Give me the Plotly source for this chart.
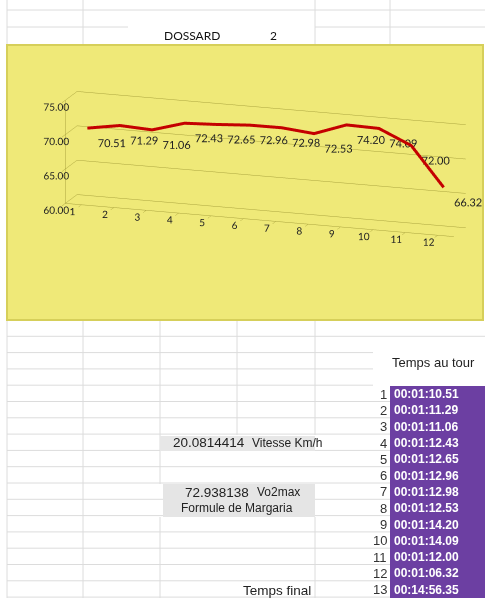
import plotly.graph_objects as go

# ---------------- data ----------------
laps = list(range(1, 13))
lap_seconds = [70.51, 71.29, 71.06, 72.43, 72.65, 72.96, 72.98, 72.53, 74.20, 74.09, 72.00, 66.32]
lap_labels = ["%.2f" % v for v in lap_seconds]
value_ticks = [60, 65, 70, 75]
value_ticktext = ["60.00", "65.00", "70.00", "75.00"]

tour_numbers = [str(i) for i in range(1, 14)]
tour_times = ["00:01:10.51", "00:01:11.29", "00:01:11.06", "00:01:12.43", "00:01:12.65",
              "00:01:12.96", "00:01:12.98", "00:01:12.53", "00:01:14.20", "00:01:14.09",
              "00:01:12.00", "00:01:06.32", "00:14:56.35"]
dossard_label = "DOSSARD"
dossard_value = "2"
vitesse_value = "20.0814414"
vitesse_label = "Vitesse Km/h"
vo2_value = "72.938138"
vo2_label = "Vo2max"
formule_text = "Formule de Margaria"
temps_tour_title = "Temps au tour"
temps_final_text = "Temps final"

# ---------------- geometry helpers (pixels -> paper) ----------------
W, H = 485, 598
def px(x):
    return x / W
def py(y):
    return 1 - y / H

YELLOW = "#efe978"
OLIVE = "#aba43e"
GRID = "#dcdcdc"
PURPLE = "#6c3fa2"
ARIAL = "Liberation Sans, Arial, sans-serif"
CALIBRI = "Lato, Open Sans, sans-serif"

fig = go.Figure()

fig.add_trace(go.Scatter3d(
    x=laps, y=[0.5] * len(laps), z=lap_seconds,
    mode="lines+text",
    line=dict(color="#c40000", width=6),
    text=lap_labels,
    textposition="bottom right",
    textfont=dict(family=CALIBRI, size=11, color="#222222"),
    hoverinfo="skip",
    showlegend=False,
))

axis_common = dict(showspikes=False, showbackground=False, zeroline=False,
                   title=dict(text=""))
k = 0.775
cx, cy, cz = -0.1305, -0.0797, -0.130

fig.update_layout(
    width=W, height=H,
    margin=dict(l=0, r=0, t=0, b=0),
    paper_bgcolor="white",
    hovermode=False,
    scene=dict(
        domain=dict(x=[px(7), px(483)], y=[py(320), py(45)]),
        bgcolor=YELLOW,
        aspectmode="manual",
        aspectratio=dict(x=3.85 * k, y=0.346 * k, z=1.0 * k),
        camera=dict(
            eye=dict(x=0.31 * 3 + cx, y=-0.917 * 3 + cy, z=0.253 * 3 + cz),
            center=dict(x=cx, y=cy, z=cz),
            up=dict(x=0, y=0, z=1),
            projection=dict(type="orthographic"),
        ),
        xaxis=dict(range=[0.5, 12.5], tickvals=laps, ticktext=[str(i) for i in laps],
                   showgrid=False, showline=True, linecolor=OLIVE, linewidth=1,
                   ticks="outside", ticklen=7, tickcolor=OLIVE, tickangle=0,
                   tickfont=dict(family=CALIBRI, size=11, color="#222222"),
                   **axis_common),
        yaxis=dict(range=[0, 1], showticklabels=False, showgrid=False, showline=False,
                   ticks="", **axis_common),
        zaxis=dict(range=[60, 75], tickvals=value_ticks, ticktext=value_ticktext,
                   showgrid=True, gridcolor=OLIVE, gridwidth=1,
                   showline=True, linecolor=OLIVE, linewidth=1,
                   ticks="outside", ticklen=3, tickcolor=OLIVE, tickangle=0,
                   tickfont=dict(family=CALIBRI, size=11, color="#222222"),
                   **axis_common),
    ),
)

shapes = []
def hline(y, x0, x1, color=GRID):
    shapes.append(dict(type="line", xref="paper", yref="paper", x0=px(x0), x1=px(x1),
                       y0=py(y), y1=py(y), line=dict(color=color, width=1), layer="below"))
def vline(x, y0, y1, color=GRID):
    shapes.append(dict(type="line", xref="paper", yref="paper", x0=px(x), x1=px(x),
                       y0=py(y0), y1=py(y1), line=dict(color=color, width=1), layer="below"))
def rect(x0, y0, x1, y1, fill, line=None):
    shapes.append(dict(type="rect", xref="paper", yref="paper", x0=px(x0), x1=px(x1),
                       y0=py(y1), y1=py(y0), fillcolor=fill,
                       line=dict(width=0) if line is None else line, layer="below"))

# top spreadsheet rows
hline(10, 7, 485)
hline(27, 7, 128)
hline(27, 315, 485)
for x in [7, 83, 315, 390]:
    vline(x, 0, 45)

# lower spreadsheet rows
row_h = 16.3
rows_y = [320 + i * row_h for i in range(1, 18)]
for i, y in enumerate(rows_y):
    if y < 340:
        hline(y, 7, 485)
    elif y < 390:
        hline(y, 7, 373)
    else:
        hline(y, 7, 390)
vline(7, 320, 598)
vline(83, 320, 598)
vline(160, 320, 484)
vline(160, 517, 598)
vline(237, 320, 435)
vline(315, 320, 435)
vline(315, 517, 598)

# grey boxes
rect(160, 436, 315, 451, "#e7e7e7")
rect(163, 484, 315, 517, "#e5e5e5")
# purple lap time column
rect(390, 386, 485, 598, PURPLE)

# chart border
shapes.append(dict(type="rect", xref="paper", yref="paper", x0=px(7), x1=px(483),
                   y0=py(320), y1=py(45), line=dict(color="#d6cf5a", width=2),
                   fillcolor="rgba(0,0,0,0)", layer="above"))

annotations = []
def txt(x, y, s, anchor="left", color="#222222", size=12, family=ARIAL, bold=False):
    annotations.append(dict(xref="paper", yref="paper", x=px(x), y=py(y), text=("<b>%s</b>" % s) if bold else s,
                            showarrow=False, xanchor=anchor, yanchor="middle",
                            font=dict(family=family, size=size, color=color)))

txt(192, 36, dossard_label, anchor="center", family=CALIBRI, size=12, color="#111111")
txt(273, 36, dossard_value, anchor="center", family=CALIBRI, size=12, color="#111111")
txt(433, 362, temps_tour_title, anchor="center", size=13)
for i, (n, t) in enumerate(zip(tour_numbers, tour_times)):
    yc = 386 + (i + 0.5) * row_h
    txt(389, yc, n, anchor="right", color="#333333", size=13)
    txt(392, yc, t, anchor="left", color="white", bold=True)
txt(247, 443, vitesse_value, anchor="right", size=13.5)
txt(250, 443, vitesse_label, anchor="left", size=12)
txt(251, 492, vo2_value, anchor="right", size=13.5)
txt(255, 492, vo2_label, anchor="left", size=12)
txt(237, 508, formule_text, anchor="center", size=12)
txt(313, 590, temps_final_text, anchor="right", size=13.5)

fig.update_layout(shapes=shapes, annotations=annotations)

fig.write_html("out.html", config={"displayModeBar": False},
               post_script="document.body.style.margin='0px'; document.body.style.overflow='hidden';")
